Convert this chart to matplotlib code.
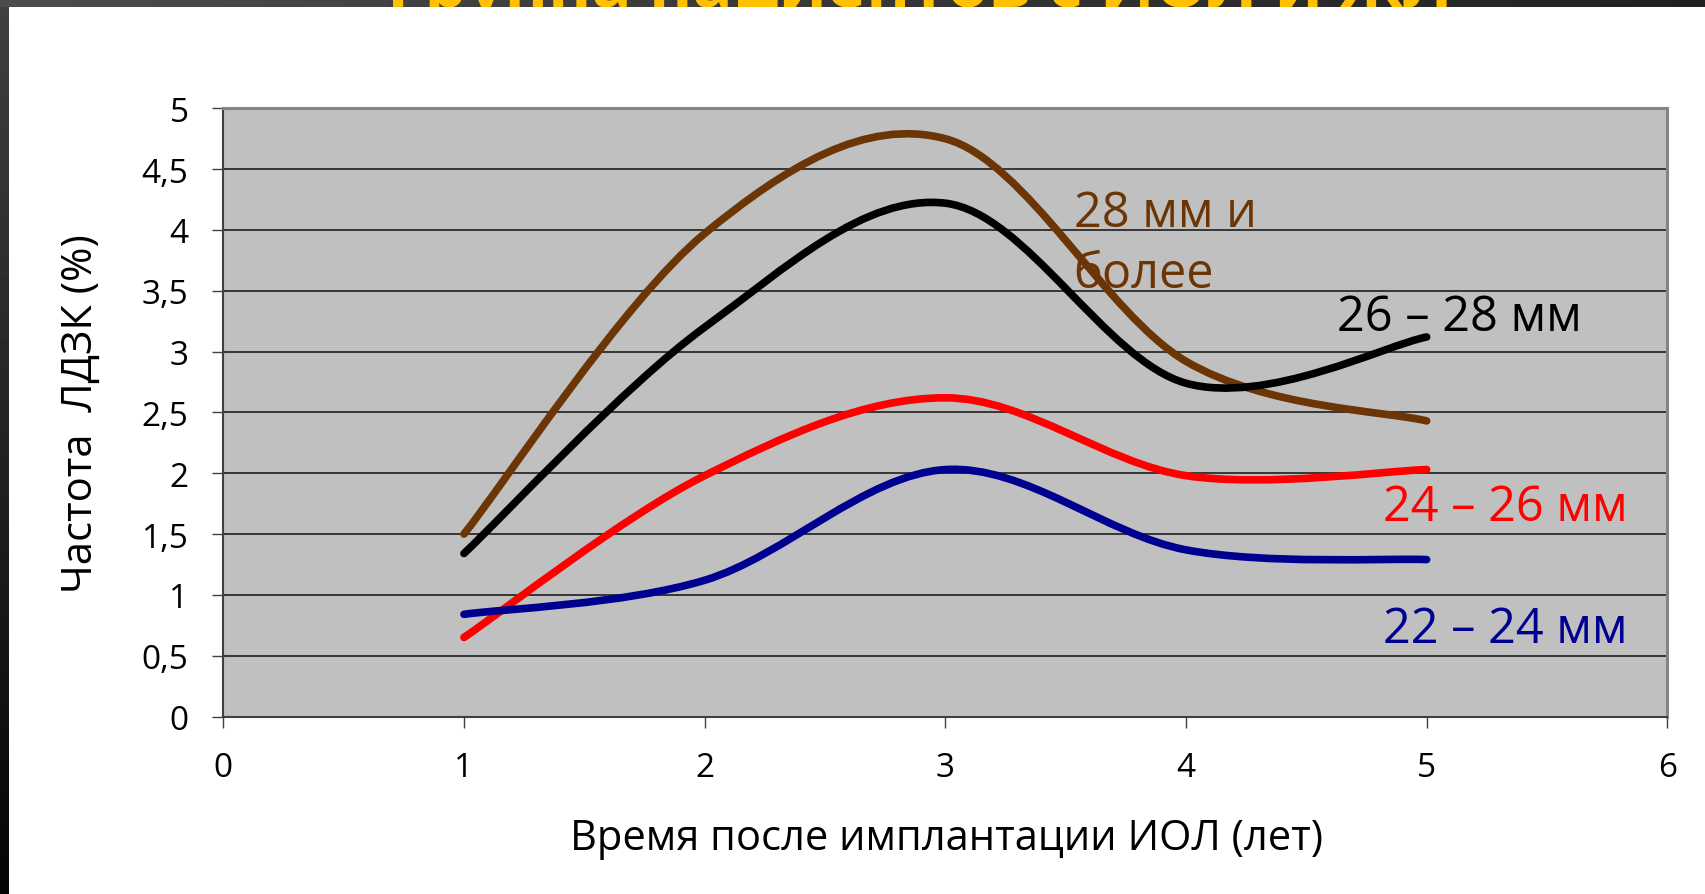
import numpy as np
import matplotlib
matplotlib.use('Agg')
import matplotlib.pyplot as plt
from matplotlib.path import Path
from matplotlib.patches import PathPatch

plt.rcParams['font.family'] = ['Open Sans', 'DejaVu Sans']

years = [1, 2, 3, 4, 5]

# frequency of the complication (%) by axial length group
freq_28_plus = [1.50, 3.97, 4.75, 2.92, 2.43]
freq_26_28 = [1.34, 3.20, 4.22, 2.74, 3.12]
freq_24_26 = [0.65, 1.98, 2.62, 1.98, 2.03]
freq_22_24 = [0.84, 1.12, 2.03, 1.37, 1.29]

group_names = ['28 мм и\nболее', '26 – 28 мм', '24 – 26 мм', '22 – 24 мм']
group_colors = ['#6b3506', '#000000', '#ff0000', '#000090']

yticks = np.arange(0, 5.01, 0.5)
ytick_labels = ['{:g}'.format(v).replace('.', ',') for v in yticks]
xticks = list(range(0, 7))
xtick_labels = [str(v) for v in xticks]

title = 'Группа пациентов с ИОЛ и ЖЛ'


def smooth_path(xs, ys):
    # Bezier curve through the points, same kind of smoothing as office charts
    pts = np.column_stack([xs, ys]).astype(float)
    n = len(pts)
    verts = [pts[0]]
    codes = [Path.MOVETO]
    for i in range(n - 1):
        p0 = pts[max(i - 1, 0)]
        p1 = pts[i]
        p2 = pts[i + 1]
        p3 = pts[min(i + 2, n - 1)]
        verts += [p1 + (p2 - p0) / 6, p2 - (p3 - p1) / 6, p2]
        codes += [Path.CURVE4] * 3
    return Path(verts, codes)


W, H = 1706, 895
fig = plt.figure(figsize=(W / 100, H / 100), dpi=100)
fig.patch.set_facecolor('white')

# slide frame: dark band on top and a dark strip on the left
band = fig.add_axes([0, 1 - 8 / H, 1, 8 / H])
band.imshow(np.linspace(0.30, 0.13, 256)[None, :], cmap='gray', vmin=0, vmax=1,
            aspect='auto', extent=[0, 1, 0, 1])
band.axis('off')
# slide title, only its lower edge falls inside the band
band.text(920 / W, 1 / 8, title, color='#ffc000', fontsize=48,
          fontweight='bold', ha='center', va='baseline',
          transform=band.transAxes, clip_on=True)
strip = fig.add_axes([0, 0, 9 / W, 1 - 8 / H])
strip.imshow(np.linspace(0.02, 0.25, 256)[:, None], cmap='gray', vmin=0, vmax=1,
             aspect='auto', extent=[0, 1, 0, 1], origin='lower')
strip.axis('off')

ax = fig.add_axes([223.3 / W, 1 - 717.5 / H, 1444 / W, 608.2 / H])
ax.set_facecolor('#c0c0c0')
ax.set_xlim(0, 6)
ax.set_ylim(0, 5)

ax.set_yticks(yticks)
ax.set_yticklabels(ytick_labels, fontsize=24)
ax.set_xticks(xticks)
ax.set_xticklabels(xtick_labels, fontsize=24)
ax.tick_params(axis='both', direction='out', pad=17,
               length=8, width=1, color='#404040')
ax.yaxis.grid(True, color='#111111', linewidth=1.1)
ax.set_axisbelow(True)

for side in ['top', 'right']:
    ax.spines[side].set_color('#858585')
    ax.spines[side].set_linewidth(2.2)
for side in ['left', 'bottom']:
    ax.spines[side].set_color('#404040')
    ax.spines[side].set_linewidth(1.5)

series = [freq_28_plus, freq_26_28, freq_24_26, freq_22_24]
for vals, color in zip(series, group_colors):
    patch = PathPatch(smooth_path(years, vals), facecolor='none',
                      edgecolor=color, linewidth=5.5, capstyle='round',
                      joinstyle='round', zorder=3)
    ax.add_patch(patch)

label_pos = [(3.533, 3.53), (4.627, 3.176), (4.818, 1.615), (4.818, 0.612)]
for name, color, (lx, ly) in zip(group_names, group_colors, label_pos):
    ax.text(lx, ly, name, color=color, fontsize=35, ha='left',
            va='baseline', linespacing=1.32, zorder=4)

ax.set_ylabel('Частота  ЛДЗК (%)', fontsize=30)
ax.yaxis.set_label_coords(-0.084, 0.5)
ax.set_xlabel('Время после имплантации ИОЛ (лет)', fontsize=30)
ax.xaxis.set_label_coords(0.501, -0.165)

fig.savefig('out.png', dpi=100)
